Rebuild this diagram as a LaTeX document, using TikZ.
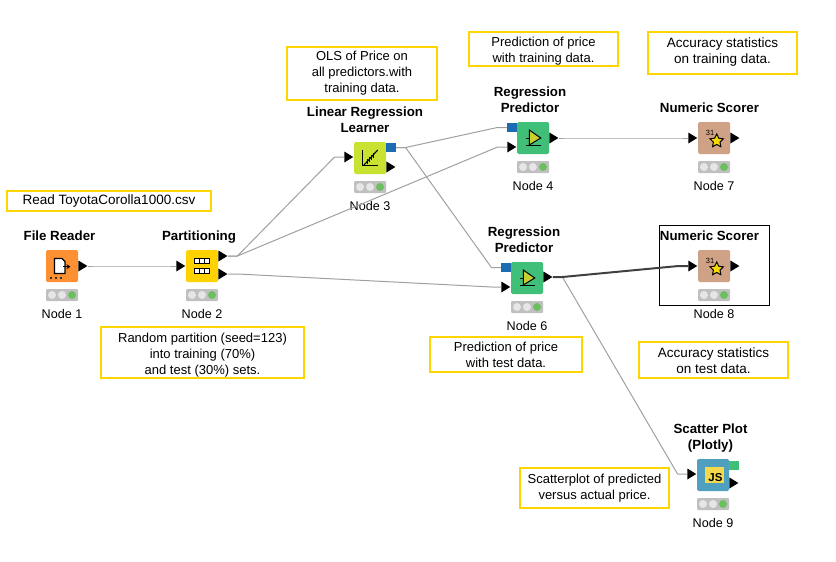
\documentclass[tikz,border=0pt]{standalone}
\usepackage{fontspec}
\setmainfont{Liberation Sans}
\usetikzlibrary{calc, arrows.meta, shapes.geometric}

\definecolor{notebar}{HTML}{FFD500}
\definecolor{wiregray}{HTML}{A0A0A0}
\definecolor{lightgray1}{HTML}{C0C0C0}
\definecolor{readerc}{HTML}{FD9033}
\definecolor{partc}{HTML}{FFD200}
\definecolor{learnc}{HTML}{C9E130}
\definecolor{predc}{HTML}{40BF78}
\definecolor{scorec}{HTML}{CFA285}
\definecolor{plotc}{HTML}{4F9FBF}
\definecolor{jsc}{HTML}{F4D94C}
\definecolor{modelc}{HTML}{1C6CB4}
\definecolor{lampg}{HTML}{6CBF5E}
\definecolor{lampw}{HTML}{E6E6E6}
\definecolor{triy}{HTML}{C8D030}
\definecolor{stary}{HTML}{F5D90A}

\tikzset{
  iconbox/.style={rectangle, rounded corners=1.5pt, minimum size=32pt, inner sep=0pt},
  lamps/.style={rectangle, rounded corners=1pt, fill=lightgray1, minimum width=32pt, minimum height=12pt, inner sep=0pt},
  lamp/.style={circle, fill=#1, minimum size=8pt, inner sep=0pt},
  title/.style={anchor=south, align=center, inner sep=0pt, text depth=3pt, font=\fontsize{13.3}{16}\selectfont\bfseries},
  nodelabel/.style={anchor=base, inner sep=0pt, font=\fontsize{12.6}{16}\selectfont},
  tport/.style={isosceles triangle, isosceles triangle stretches, fill=black, inner sep=0pt, minimum height=9pt, minimum width=11pt},
  sport/.style={rectangle, fill=#1, inner sep=0pt, minimum width=9.5pt, minimum height=9pt},
  note/.style={rectangle, draw=notebar, line width=2pt, fill=white, align=center, inner sep=0pt, font=\fontsize{13}{16}\selectfont},
  widenote/.style={note, font=\fontsize{13.5}{16}\selectfont},
  wire/.style={draw=wiregray, line width=1pt, to path={-- ++(9.5,0) -- ($(\tikztotarget)+(-9.5,0)$) -- (\tikztotarget)}},
  hotwire/.style={wire, draw=black!75, line width=2pt},
}

% one workflow node: name, position, colour, number, title, title shift
\newcommand{\knode}[6]{
  \node[iconbox, fill=#3] (#1) at (#2) {};
  \node[lamps] (#1l) at ($(#1)+(0,29)$) {};
  \node[lamp=lampw] (#1la) at ($(#1l)+(-10,0)$) {};
  \node[lamp=lampw] (#1lb) at (#1l) {};
  \node[lamp=lampg] (#1lc) at ($(#1l)+(10,0)$) {};
  \node[nodelabel] (#1t) at ($(#1)+(0,52)$) {#4};
  \node[title] (#1h) at ($(#1)+(#6,-22.5)$) {#5};
}
\newcommand{\predicon}[1]{
  \fill[triy, draw=black, line width=1pt] ($(#1)+(-3.7,-8)$) -- ($(#1)+(7.7,0)$) -- ($(#1)+(-3.7,7)$) -- cycle;
  \draw[line width=1pt] ($(#1)+(-7,7)$) -- ($(#1)+(7.7,7)$) ($(#1)+(-7,0)$) -- ($(#1)+(-3.7,0)$);
}
\newcommand{\scoreicon}[1]{
  \node[inner sep=0pt, font=\fontsize{7.5}{7.5}\selectfont] (#1d) at ($(#1)+(-4,-5.5)$) {31};
  \node[star, star points=5, star point ratio=2, fill=stary, draw=black, line width=1pt, minimum size=14pt, inner sep=0pt] (#1s) at ($(#1)+(2.7,3)$) {};
}

\begin{document}
\begin{tikzpicture}[x=1pt, y=-1pt]
\useasboundingbox (0,0) rectangle (836,562);

% annotations
\node[widenote, minimum width=204pt, minimum height=20pt] (txt1) at (109,201) {Read ToyotaCorolla1000.csv};
\node[note, minimum width=150pt, minimum height=53pt] (txt2) at (362,73.5) {OLS of Price on\\all predictors.with\\training data.};
\node[note, minimum width=149pt, minimum height=34pt, text height=29.3pt] (txt3) at (543.5,49) {Prediction of price\\with training data.};
\node[widenote, minimum width=149pt, minimum height=42pt, text depth=5pt] (txt4) at (722.5,53) {Accuracy statistics\\on training data.};
\node[note, minimum width=203pt, minimum height=51pt, text height=47.3pt] (txt5) at (202.5,352.5) {Random partition (seed=123)\\into training (70\%)\\and test (30\%) sets.};
\node[note, minimum width=152pt, minimum height=35pt] (txt6) at (506,354.5) {Prediction of price\\with test data.};
\node[widenote, minimum width=149pt, minimum height=36pt, text height=27.5pt] (txt7) at (713.5,360) {Accuracy statistics\\on test data.};
\node[note, minimum width=149pt, minimum height=40pt, text depth=3pt] (txt8) at (594.5,488) {Scatterplot of predicted\\versus actual price.};

% selected node frame
\draw[black, line width=1pt] (659,225) rectangle (769,305);

% workflow nodes
\knode{n1}{62,266}{readerc}{Node 1}{File Reader}{-2.5}
\knode{n2}{202,266}{partc}{Node 2}{Partitioning}{-3}
\knode{n3}{370,158}{learnc}{Node 3}{Linear Regression\\Learner}{-5}
\knode{n4}{533,138}{predc}{Node 4}{Regression\\Predictor}{-3}
\knode{n6}{527,278}{predc}{Node 6}{Regression\\Predictor}{-3}
\knode{n7}{714,138}{scorec}{Node 7}{Numeric Scorer}{-4.5}
\knode{n8}{714,266}{scorec}{Node 8}{Numeric Scorer}{-4.5}
\knode{n9}{713,475}{plotc}{Node 9}{Scatter Plot\\(Plotly)}{-2.5}

% ports
\node[tport, anchor=west] (n1o) at (n1.east) {};
\node[tport, anchor=east] (n2i) at (n2.west) {};
\node[tport, anchor=west] (n2a) at ($(n2.east)+(0,-10)$) {};
\node[tport, anchor=west] (n2b) at ($(n2.east)+(0,8)$) {};
\node[tport, anchor=east] (n3i) at ($(n3.west)+(0,-1)$) {};
\node[sport=modelc, anchor=west] (n3m) at ($(n3.east)+(0,-10.5)$) {};
\node[tport, anchor=west] (n3o) at ($(n3.east)+(0,9)$) {};
\node[sport=modelc, anchor=east] (n4m) at ($(n4.west)+(0,-10.5)$) {};
\node[tport, anchor=east] (n4i) at ($(n4.west)+(0,9)$) {};
\node[tport, anchor=west] (n4o) at (n4.east) {};
\node[sport=modelc, anchor=east] (n6m) at ($(n6.west)+(0,-10.5)$) {};
\node[tport, anchor=east] (n6i) at ($(n6.west)+(0,9)$) {};
\node[tport, anchor=west] (n6o) at ($(n6.east)+(0,-1)$) {};
\node[tport, anchor=east] (n7i) at (n7.west) {};
\node[tport, anchor=west] (n7o) at (n7.east) {};
\node[tport, anchor=east] (n8i) at (n8.west) {};
\node[tport, anchor=west] (n8o) at (n8.east) {};
\node[tport, anchor=east] (n9i) at ($(n9.west)+(0,-1)$) {};
\node[sport=predc, anchor=west] (n9g) at ($(n9.east)+(0,-10)$) {};
\node[tport, anchor=west] (n9o) at ($(n9.east)+(0,8)$) {};

% connections
\draw[wire] (n1o.east) to (n2i.west);
\draw[wire] (n2a.east) to (n3i.west);
\draw[wire] (n2a.east) to (n4i.west);
\draw[wire] (n2b.east) to (n6i.west);
\draw[wire] (n3m.east) to (n4m.west);
\draw[wire] (n3m.east) to (n6m.west);
\draw[wire] (n4o.east) to (n7i.west);
\draw[wire] (n6o.east) to (n9i.west);
\draw[hotwire] (n6o.east) to (n8i.west);

% icons
\fill[white, draw=black, line width=1.2pt] ($(n1)+(-7.5,-7.5)$) -- ($(n1)+(0,-7.5)$) -- ($(n1)+(3,-4.5)$) -- ($(n1)+(3,7.5)$) -- ($(n1)+(-7.5,7.5)$) -- cycle;
\draw[black, line width=1.2pt, -{Stealth[length=4pt,width=5pt]}] ($(n1)+(1,.7)$) -- ($(n1)+(8.5,.7)$);
\foreach \dx in {-12,-7,-2}
  \fill[black!80] ($(n1)+(\dx,11)$) rectangle ($(n1)+(\dx+2,13)$);

\fill[black] ($(n2)+(-8,-8)$) rectangle ($(n2)+(8,-2.5)$);
\fill[black] ($(n2)+(-8,2)$) rectangle ($(n2)+(8,7.5)$);
\foreach \dx in {-7,-2,3}{
  \fill[white] ($(n2)+(\dx,-7)$) rectangle ($(n2)+(\dx+4,-3.5)$);
  \fill[white] ($(n2)+(\dx,3)$) rectangle ($(n2)+(\dx+4,6.5)$);
}

\draw[black, line width=1pt] ($(n3)+(-7.7,-8)$) -- ($(n3)+(-7.7,7)$) -- ($(n3)+(7.7,7)$);
\draw[black, line width=1.1pt] ($(n3)+(-6,7)$) -- ($(n3)+(7.7,-8)$);
\foreach \dx in {-3,-1,1,3}
  \draw[black, line width=1pt] ($(n3)+(\dx,3-\dx)$) -- ($(n3)+(\dx,-2-\dx)$);

\predicon{n4}
\predicon{n6}
\scoreicon{n7}
\scoreicon{n8}

\fill[jsc] ($(n9)+(-8,-8)$) rectangle ($(n9)+(11,8)$);
\node[inner sep=0pt, font=\fontsize{11.5}{11.5}\selectfont\bfseries] (n9j) at ($(n9)+(2.5,2.5)$) {JS};

\end{tikzpicture}
\end{document}
